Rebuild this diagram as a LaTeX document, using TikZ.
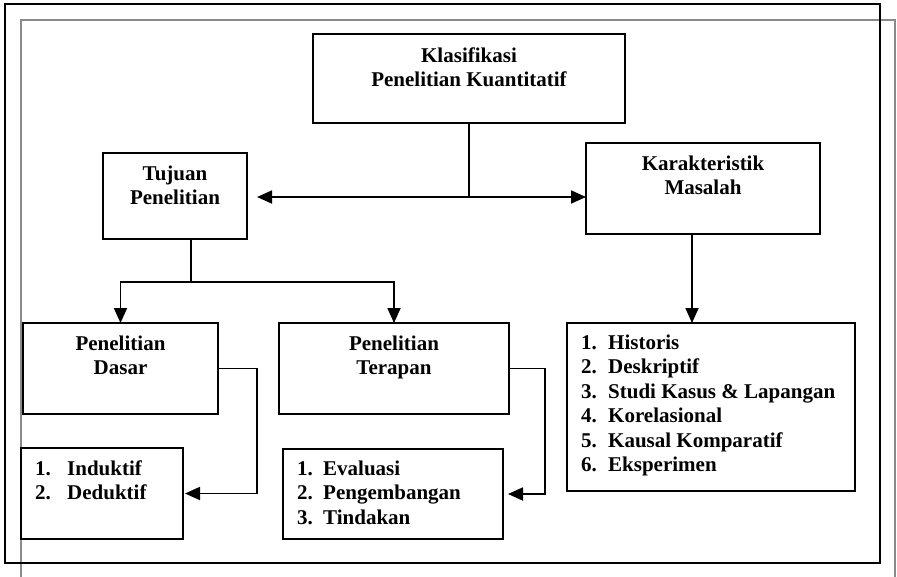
\documentclass[tikz,border=0pt]{standalone}
\usepackage{fontspec}
\setmainfont{Liberation Serif}
\usetikzlibrary{arrows.meta,calc}
\definecolor{bordergray}{HTML}{8A8A8A}
\begin{document}
\begin{tikzpicture}[x=1pt,y=-1pt,
  box/.style={draw,line width=1.8pt,inner sep=0,outer sep=0,anchor=north west},
  txt/.style={inner sep=0,anchor=base,font=\bfseries\fontsize{21}{24.5}\selectfont},
  lst/.style={txt,anchor=base west},
  ln/.style={line width=1.8pt},
  arr/.style={line width=1.8pt,-{Triangle[length=15pt,width=13pt]}}]
\useasboundingbox (0,0) rectangle (897,576);
% page borders
\draw[bordergray,line width=1.5pt] (21,20) rectangle (895,640);
\draw[line width=2pt] (5,4) rectangle (880,563);
% boxes
\node[box,minimum width=312pt,minimum height=89pt] (k) at (313,34) {};
\node[box,minimum width=144pt,minimum height=86pt] (t) at (103,153) {};
\node[box,minimum width=234pt,minimum height=91pt] (kar) at (586,143) {};
\node[box,minimum width=195pt,minimum height=91pt] (d) at (23,323) {};
\node[box,minimum width=230pt,minimum height=91pt] (tr) at (279,323) {};
\node[box,minimum width=162pt,minimum height=91pt] (ind) at (21,448) {};
\node[box,minimum width=220pt,minimum height=90pt] (ev) at (283,449) {};
\node[box,minimum width=288pt,minimum height=168pt] (kl) at (567,323) {};
% texts
\node[txt] (kt) at (469,62) {\begin{tabular}[t]{@{}c@{}}Klasifikasi\\Penelitian Kuantitatif\end{tabular}};
\node[txt] (tt) at (175,180) {\begin{tabular}[t]{@{}c@{}}Tujuan\\Penelitian\end{tabular}};
\node[txt] (kart) at (703,170) {\begin{tabular}[t]{@{}c@{}}Karakteristik\\Masalah\end{tabular}};
\node[txt] (dt) at (120.5,350) {\begin{tabular}[t]{@{}c@{}}Penelitian\\Dasar\end{tabular}};
\node[txt] (trt) at (394,350) {\begin{tabular}[t]{@{}c@{}}Penelitian\\Terapan\end{tabular}};
\node[lst] (indt) at (35,475) {\begin{tabular}[t]{@{}l@{}}\makebox[32pt][l]{1.}Induktif\\\makebox[32pt][l]{2.}Deduktif\end{tabular}};
\node[lst] (evt) at (297,475) {\begin{tabular}[t]{@{}l@{}}\makebox[26pt][l]{1.}Evaluasi\\\makebox[26pt][l]{2.}Pengembangan\\\makebox[26pt][l]{3.}Tindakan\end{tabular}};
\node[lst] (klt) at (581,349) {\begin{tabular}[t]{@{}l@{}}\makebox[27pt][l]{1.}Historis\\\makebox[27pt][l]{2.}Deskriptif\\\makebox[27pt][l]{3.}Studi Kasus \& Lapangan\\\makebox[27pt][l]{4.}Korelasional\\\makebox[27pt][l]{5.}Kausal Komparatif\\\makebox[27pt][l]{6.}Eksperimen\end{tabular}};
% connectors
\coordinate (y1) at (0,197);
\coordinate (j1) at (k.south |- y1);
\draw[ln] (k.south) -- (j1);
\draw[arr,shorten >=10pt] (j1) -- (t.east |- j1);
\draw[arr] (j1) -- (kar.west |- j1);
\coordinate (j2) at ($(t.south)+(16,43)$);
\draw[ln] (t.south -| j2) -- (j2);
\draw[arr] (j2) -| (d.north);
\draw[arr] (j2) -| (tr.north);
\draw[arr,shorten >=2pt] (d.east) -- ++(39,0) |- (ind.east);
\draw[arr,shorten >=5pt] (tr.east) -- ++(36,0) |- (ev.east);
\coordinate (ks) at ($(kar.south)+(-11,0)$);
\draw[arr] (ks) -- (ks |- kl.north);
\end{tikzpicture}
\end{document}
